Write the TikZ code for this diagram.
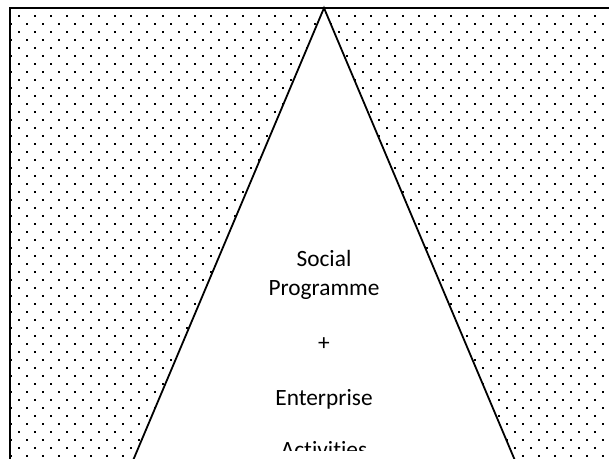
\documentclass[tikz,border=0pt]{standalone}
\usepackage{fontspec}
\setmainfont{Carlito}[Ligatures=NoCommon]
\begin{document}
\begin{tikzpicture}[x=0.75pt,y=-0.75pt,
  frame/.style={draw=black, line width=1.1pt},
  cone/.style={fill=white, draw=black, line width=1.35pt, line join=miter},
  speck/.style={fill=black},
  caption/.style={font=\fontsize{17.5}{21.75}\selectfont, align=center, inner sep=0pt}]
\useasboundingbox (0,0) rectangle (609,458);
\begin{scope}
  \clip (0,0) rectangle (609,458);
  % staggered dot field inside the frame
  \begin{scope}
    \clip (10,8) rectangle (640,480);
    \foreach \r in {0,...,57}{
      \pgfmathsetmacro{\yy}{8+8*\r}
      \pgfmathsetmacro{\xo}{11-8*mod(\r,2)}
      \foreach \k in {0,...,38}{
        \fill[speck] ({\xo+16*\k-0.6},{\yy-0.6}) rectangle ++(1.6,1.6);
      }
    }
  \end{scope}
  % white cone rising to the top edge
  \coordinate (apex) at (324,8);
  \coordinate (baseL) at (129,470);
  \coordinate (baseR) at (519,470);
  \draw[cone] (baseL) -- (apex) -- (baseR);
  % frame: only its left and top sides fall inside the page
  \draw[frame] (10,480) -- (10,8) -- (640,8);
  % text inside the cone, cut off above the lower edge
  \begin{scope}
    \clip (0,0) rectangle (609,450);
    \node[caption, anchor=base] (txt) at (324,457)
      {Social\\Programme\\[19.5pt]+\\[19.5pt]Enterprise\\[17.25pt]Activities};
  \end{scope}
\end{scope}
\end{tikzpicture}
\end{document}
